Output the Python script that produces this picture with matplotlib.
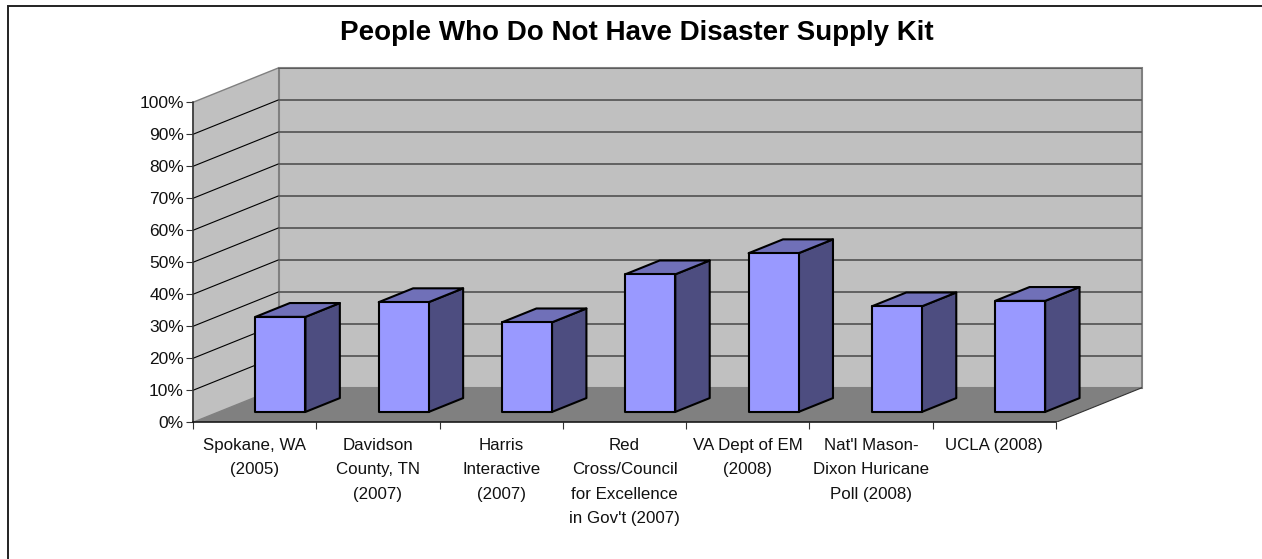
import matplotlib
matplotlib.use('Agg')
import matplotlib.pyplot as plt
from matplotlib.patches import Polygon, Rectangle

plt.rcParams['font.family'] = ['Liberation Sans', 'DejaVu Sans']

labels = ['Spokane, WA\n(2005)', 'Davidson\nCounty, TN\n(2007)', 'Harris\nInteractive\n(2007)',
	"Red\nCross/Council\nfor Excellence\nin Gov't (2007)", 'VA Dept of EM\n(2008)',
	"Nat'l Mason-\nDixon Huricane\nPoll (2008)", 'UCLA (2008)']
values = [29.7, 34.3, 28, 43, 49.6, 33, 34.7]
yticks = list(range(0, 101, 10))

W, H = 1262, 559
# plot box in pixels: front of the floor plus the room taken by the depth
left, right, bottom, top = 193, 1142, 422.3, 67.5
px_cat = (1056 - 193) / 7
px_pct = 3.2
depth_x = (1142 - 1056) / px_cat
depth_y = 34.6 / px_pct
bar_w = 50 / px_cat

fig = plt.figure(figsize=(W / 100, H / 100), dpi=100)
# outer chart frame, runs off the right and bottom edges
fig.add_artist(Rectangle((7.5 / W, -1 / H), (W + 5) / W, (H - 4.5) / H, fill=False, ec='#222222', lw=1.4,
	transform=fig.transFigure))
ax = fig.add_axes([left / W, 1 - bottom / H, (right - left) / W, (bottom - top) / H])
ax.set_xlim(0, (right - left) / px_cat)
ax.set_ylim(0, (bottom - top) / px_pct)
ax.patch.set_visible(False)


def p(x, y, d=0):
	# oblique projection, d is depth from 0 (front) to 1 (back wall)
	return (x + d * depth_x, y + d * depth_y)


def face(pts, color, **kw):
	ax.add_patch(Polygon(pts, closed=True, fc=color, clip_on=False, **kw))


# walls and floor
face([p(0, 0), p(0, 0, 1), p(0, 100, 1), p(0, 100)], '#C0C0C0', ec='#808080', lw=1.0)
face([p(0, 0, 1), p(7, 0, 1), p(7, 100, 1), p(0, 100, 1)], '#C0C0C0', ec='#808080', lw=1.5)
face([p(0, 0), p(7, 0), p(7, 0, 1), p(0, 0, 1)], '#808080', ec='none')
for t in yticks[1:-1]:
	ax.plot(*zip(p(0, t), p(0, t, 1)), color='black', lw=0.8, zorder=1.5)
	ax.plot(*zip(p(0, t, 1), p(7, t, 1)), color='#5A5A5A', lw=1.3, zorder=1.5)
ax.plot(*zip(p(0, 100, 1), p(7, 100, 1)), color='#5A5A5A', lw=1.3, zorder=1.5)
ax.plot(*zip(p(7, 0), p(7, 0, 1)), color='#333333', lw=0.8, zorder=1.5)

# bars, front face sits 0.3 into the depth and runs to 0.7
for i, v in enumerate(values):
	x0 = i + 0.5 - bar_w / 2
	x1 = x0 + bar_w
	edge = dict(ec='black', lw=1.5, joinstyle='round', zorder=3)
	face([p(x1, 0, 0.3), p(x1, 0, 0.7), p(x1, v, 0.7), p(x1, v, 0.3)], '#4D4D80', **edge)
	face([p(x0, v, 0.3), p(x1, v, 0.3), p(x1, v, 0.7), p(x0, v, 0.7)], '#7070B8', **edge)
	face([p(x0, 0, 0.3), p(x1, 0, 0.3), p(x1, v, 0.3), p(x0, v, 0.3)], '#9999FF', **edge)

for s in ['top', 'right']:
	ax.spines[s].set_visible(False)
ax.spines['left'].set_bounds(0, 100)
ax.spines['bottom'].set_bounds(0, 7)
ax.spines['left'].set_color('#333333')
ax.spines['left'].set_linewidth(1.1)
ax.spines['bottom'].set_color('#111111')
ax.spines['bottom'].set_linewidth(1.1)

ax.set_yticks(yticks)
ax.set_yticklabels([str(t) + '%' for t in yticks], fontsize=12.5, color='#111111')
ax.tick_params(axis='y', length=5, width=0.8, pad=1.5, color='#333333')
ax.set_xticks(range(8))
ax.set_xticklabels([])
ax.tick_params(axis='x', length=5, width=0.8, color='#333333')
for i, lab in enumerate(labels):
	ax.annotate(lab, (i + 0.5, 0), xytext=(0, -11), textcoords='offset points', ha='center', va='top',
		fontsize=12.2, color='#111111', linespacing=1.8, annotation_clip=False)

fig.text(637 / W, 1 - 33 / H, 'People Who Do Not Have Disaster Supply Kit', ha='center', va='center',
	fontsize=20, fontweight='bold', color='black')

fig.savefig('out.png', dpi=100)
